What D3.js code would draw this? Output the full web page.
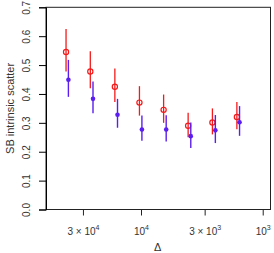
<!DOCTYPE html>
<html>
<head>
<meta charset="utf-8">
<script src="https://cdn.jsdelivr.net/npm/d3@7"></script>
<style>
html,body{margin:0;padding:0;background:#fff;}
svg{display:block;font-family:"Liberation Sans",Arial,sans-serif;}
</style>
</head>
<body>
<svg id="chart" width="274" height="253"></svg>
<script>
// ---- data ----
const redDelta  = [41300, 26100, 16400, 10300, 6520, 4100, 2590, 1630];
const redValue  = [0.545, 0.478, 0.425, 0.370, 0.345, 0.290, 0.301, 0.320];
const redLow    = [0.478, 0.420, 0.372, 0.325, 0.300, 0.250, 0.260, 0.278];
const redHigh   = [0.625, 0.548, 0.488, 0.427, 0.398, 0.335, 0.350, 0.372];

const blueDelta = [39500, 24800, 15600, 9830, 6210, 3900, 2450, 1550];
const blueValue = [0.449, 0.383, 0.328, 0.277, 0.277, 0.254, 0.274, 0.302];
const blueLow   = [0.390, 0.333, 0.283, 0.238, 0.235, 0.213, 0.230, 0.255];
const blueHigh  = [0.518, 0.443, 0.383, 0.325, 0.326, 0.301, 0.327, 0.358];

const yTicks = [0, 0.1, 0.2, 0.3, 0.4, 0.5, 0.6, 0.7];
const yTickLabels = ["0.0","0.1","0.2","0.3","0.4","0.5","0.6","0.7"];
const xTicks = [3e4, 1e4, 3e3, 1e3];
const xTickBase = ["3 \u00D7 10", "10", "3 \u00D7 10", "10"];
const xTickExp  = ["4", "4", "3", "3"];

const xTitle = "\u0394";
const yTitle = "SB intrinsic scatter";

// ---- layout ----
const L = 46, R = 270.5, T = 7.3, B = 209.5;
const svg = d3.select("#chart");

const x = d3.scaleLog().domain([60350, 863]).range([L, R]);
const y = d3.scaleLinear().domain([0, 0.7]).range([B, T]);

// box
svg.append("rect").attr("x", L).attr("y", T).attr("width", R - L).attr("height", B - T)
  .attr("fill", "none").attr("stroke", "#222").attr("stroke-width", 1);

// y axis
const yAxis = d3.axisLeft(y).tickValues(yTicks).tickSize(7).tickPadding(11)
  .tickFormat((d, i) => yTickLabels[i]);
const gy = svg.append("g").attr("transform", `translate(${L},0)`).call(yAxis);
gy.select(".domain").attr("stroke", "#000");
gy.selectAll(".tick line").attr("stroke", "#000");
gy.selectAll(".tick text")
  .attr("font-size", 10).attr("fill", "#333")
  .attr("text-anchor", "middle").attr("dy", null).attr("x", null)
  .attr("transform", "translate(-19.5,0) rotate(-90)")
  .attr("dominant-baseline", "central");

// x axis
const xAxis = d3.axisBottom(x).tickValues(xTicks).tickSize(6).tickFormat("");
const gx = svg.append("g").attr("transform", `translate(0,${B})`).call(xAxis);
gx.select(".domain").remove();
gx.selectAll(".tick line").attr("stroke", "#222");
gx.selectAll(".tick").each(function(d, i) {
  const t = d3.select(this).append("text")
    .attr("y", 25).attr("text-anchor", "middle")
    .attr("font-size", 10).attr("fill", "#333");
  t.append("tspan").text(xTickBase[i]);
  t.append("tspan").attr("dy", -4.5).attr("font-size", 7).text(xTickExp[i]);
});

// titles
svg.append("text").attr("x", (L + R) / 2 - 0.5).attr("y", 251)
  .attr("text-anchor", "middle").attr("font-size", 11).attr("fill", "#333").text(xTitle);
svg.append("text").attr("transform", `translate(14,${(T + B) / 2}) rotate(-90)`)
  .attr("text-anchor", "middle").attr("font-size", 11).attr("fill", "#333").text(yTitle);

// red series
const red = redDelta.map((d, i) => ({d, v: redValue[i], lo: redLow[i], hi: redHigh[i]}));
const blue = blueDelta.map((d, i) => ({d, v: blueValue[i], lo: blueLow[i], hi: blueHigh[i]}));
const redCol = "#f21a1a", blueCol = "#5a1ef0";

svg.append("g").selectAll("line").data(red).join("line")
  .attr("x1", p => x(p.d)).attr("x2", p => x(p.d))
  .attr("y1", p => y(p.lo)).attr("y2", p => y(p.hi))
  .attr("stroke", redCol).attr("stroke-width", 1.3);
svg.append("g").selectAll("circle").data(red).join("circle")
  .attr("cx", p => x(p.d)).attr("cy", p => y(p.v)).attr("r", 2.6)
  .attr("fill", "none").attr("stroke", redCol).attr("stroke-width", 1.2);

// blue series
svg.append("g").selectAll("line").data(blue).join("line")
  .attr("x1", p => x(p.d)).attr("x2", p => x(p.d))
  .attr("y1", p => y(p.lo)).attr("y2", p => y(p.hi))
  .attr("stroke", blueCol).attr("stroke-width", 1.4);
svg.append("g").selectAll("circle").data(blue).join("circle")
  .attr("cx", p => x(p.d)).attr("cy", p => y(p.v)).attr("r", 2.3)
  .attr("fill", blueCol);
</script>
</body>
</html>
